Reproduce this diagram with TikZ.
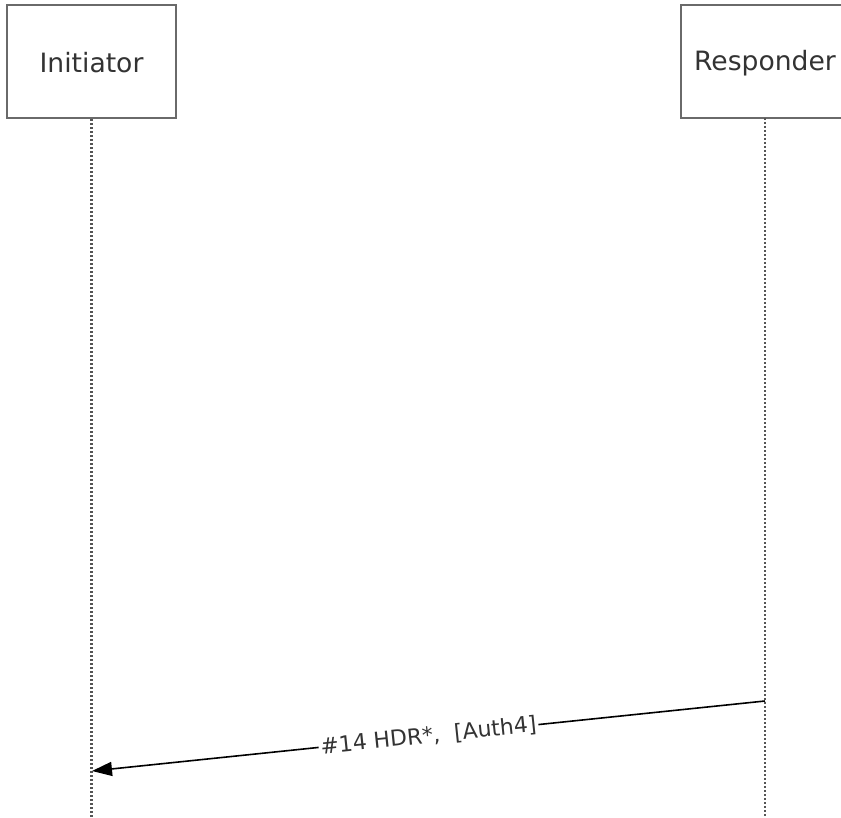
\documentclass[tikz,border=0pt]{standalone}
\usepackage{fontspec}
\setmainfont{DejaVu Sans}
\usetikzlibrary{arrows.meta}
\definecolor{boxgray}{HTML}{6A6A6A}
\definecolor{linegray}{HTML}{555555}
\definecolor{txt}{HTML}{333333}
\begin{document}
\begin{tikzpicture}[x=0.5pt,y=-0.5pt,
  actor/.style={draw=boxgray, line width=1.3pt, fill=white, minimum height=56.5pt, inner sep=0pt},
  actortext/.style={font=\fontsize{13.3}{15}\selectfont, text=txt, inner sep=0pt},
  lifeline/.style={draw=linegray, line width=1.1pt, dash pattern=on 1pt off 1pt},
  msg/.style={draw=black, line width=0.8pt, -{Triangle[length=10pt,width=7pt]}},
  msglabel/.style={fill=white, inner sep=1pt, font=\fontsize{11}{13}\selectfont, text=txt, sloped}]
\useasboundingbox (0,0) rectangle (841,818);
\node[actor, minimum width=84.5pt] (ini) at (91.5,61.5) {};
\node[actortext] (inilabel) at (91.5,63) {Initiator};
\node[actor, minimum width=100pt] (res) at (781,61.5) {};
\node[actortext] (reslabel) at (765,63) {Responder};
\coordinate (resll) at (765,118);
\coordinate (iniend) at (91.5,818);
\coordinate (resend) at (765,818);
\draw[lifeline] (ini.south) -- (iniend);
\draw[lifeline] (resll) -- (resend);
\coordinate (m1s) at (765,701);
\coordinate (m1e) at (92,771);
\draw[msg] (m1s) -- node[msglabel] {\#14 HDR*,\ \ [Auth4]} (m1e);
\end{tikzpicture}
\end{document}
